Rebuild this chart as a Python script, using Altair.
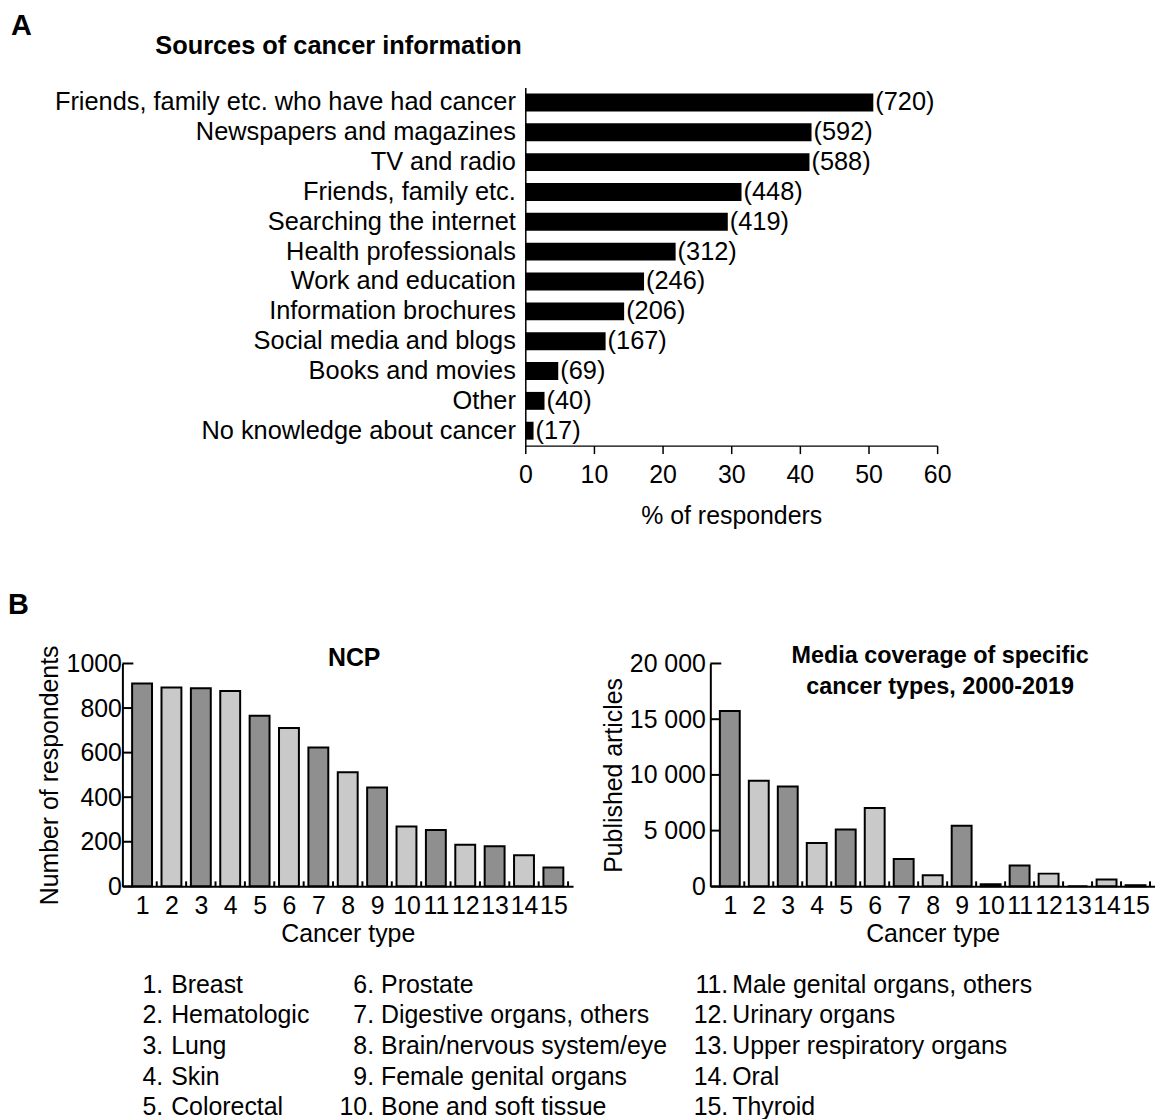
import altair as alt
import pandas as pd

FONT = "Liberation Sans, Arial, Helvetica, sans-serif"
FS = 25
FSA = 25.5
DARK = "#8f8f8f"
LIGHT = "#c9c9c9"

# ---------------- data ----------------
sources = [
    "Friends, family etc. who have had cancer",
    "Newspapers and magazines",
    "TV and radio",
    "Friends, family etc.",
    "Searching the internet",
    "Health professionals",
    "Work and education",
    "Information brochures",
    "Social media and blogs",
    "Books and movies",
    "Other",
    "No knowledge about cancer",
]
source_counts = [720, 592, 588, 448, 419, 312, 246, 206, 167, 69, 40, 17]
source_pct = [50.7, 41.7, 41.4, 31.5, 29.5, 21.9, 17.3, 14.4, 11.7, 4.8, 2.8, 1.2]
pct_ticks = [0, 10, 20, 30, 40, 50, 60]

cancer_types = list(range(1, 16))
cancer_names = [
    "Breast", "Hematologic", "Lung", "Skin", "Colorectal",
    "Prostate", "Digestive organs, others", "Brain/nervous system/eye",
    "Female genital organs", "Bone and soft tissue",
    "Male genital organs, others", "Urinary organs",
    "Upper respiratory organs", "Oral", "Thyroid",
]
ncp_respondents = [910, 892, 889, 877, 766, 711, 623, 512, 443, 268, 253, 187, 180, 139, 84]
media_articles = [15740, 9470, 8950, 3880, 5090, 7040, 2460, 1000, 5440, 180, 1860, 1140, 0, 620, 100]
ncp_ticks = [0, 200, 400, 600, 800, 1000]
media_ticks = [0, 5000, 10000, 15000, 20000]


def label_chart(text, x, y, size, bold=True, align="left"):
    return alt.Chart(pd.DataFrame({"t": [text]})).mark_text(
        align=align, baseline="middle", fontSize=size,
        fontWeight="bold" if bold else "normal", font=FONT, color="black",
    ).encode(x=alt.value(x), y=alt.value(y), text="t:N")


# ---------------- panel A ----------------
WA, HA = 414, 360
dfA = pd.DataFrame({
    "source": sources,
    "pct": source_pct,
    "label": [f"({c})" for c in source_counts],
})
yA = alt.Y("source:N", sort=sources,
           scale=alt.Scale(paddingInner=0.4, paddingOuter=0.2),
           axis=alt.Axis(title=None, ticks=False, labelPadding=10, labelLimit=0,
                         domainWidth=1.5, labelFontSize=FSA))
xA = alt.X("pct:Q", scale=alt.Scale(domain=[0, 60], nice=False),
           axis=alt.Axis(values=pct_ticks, title="% of responders", tickSize=8,
                         tickWidth=1.5, domainWidth=1.5, labelPadding=9,
                         titlePadding=16, grid=False, labelFlush=False))
barsA = alt.Chart(dfA).mark_bar(color="black").encode(x=xA, y=yA)
textA = alt.Chart(dfA).mark_text(align="left", baseline="middle", dx=2,
                                 fontSize=FSA, font=FONT, color="black").encode(
    x=xA, y=yA, text="label:N")
panelA = alt.layer(
    barsA, textA,
    label_chart("A", -517, -62, 29),
    label_chart("Sources of cancer information", -372, -42, FSA),
).properties(width=WA, height=HA)

spacer = alt.Chart(pd.DataFrame({"a": [0]})).mark_point(opacity=0).encode(
    x=alt.value(0), y=alt.value(0)).properties(width=1, height=1)
rowA = alt.HConcatChart(hconcat=[spacer, panelA], spacing=404, bounds="flush")


# ---------------- panel B ----------------
def panel_b(values, ticks, W, H, ytitle, lab_pad, title_pad, label_expr=None, fmt="d"):
    df = pd.DataFrame({"type": cancer_types, "v": values})
    xscale = alt.Scale(domain=[0.5, 15.5], nice=False, zero=False)
    xaxis = alt.Axis(values=cancer_types, format="d", title="Cancer type",
                     ticks=False, labelPadding=7, titlePadding=3,
                     labelOverlap=False, labelFlush=False, grid=False,
                     domainWidth=2)
    ykw = dict(values=ticks, ticks=False, title=ytitle, labelPadding=lab_pad,
               titlePadding=title_pad, grid=False, labelOverlap=False,
               domainWidth=2, labelFlush=False, format=fmt)
    if label_expr:
        ykw["labelExpr"] = label_expr
    yscale = alt.Scale(domain=[0, ticks[-1]], nice=False)
    yaxis = alt.Axis(**ykw)

    ytick = alt.Chart(pd.DataFrame({"v": ticks})).mark_rule(
        color="black", strokeWidth=2).encode(
        y=alt.Y("v:Q", scale=yscale, axis=yaxis),
        x=alt.value(0), x2=alt.value(11))
    xtick = alt.Chart(df).transform_calculate(edge="datum.type + 0.5").mark_rule(
        color="black", strokeWidth=2).encode(
        x=alt.X("edge:Q", scale=xscale, axis=xaxis),
        y=alt.value(H), y2=alt.value(H - 5))
    bars = alt.Chart(df).mark_bar(size=20, stroke="black", strokeWidth=2).encode(
        x=alt.X("type:Q", scale=xscale, axis=xaxis),
        y=alt.Y("v:Q", scale=yscale, axis=yaxis),
        fill=alt.condition("datum.type % 2 == 1", alt.value(DARK), alt.value(LIGHT)),
    )
    return [ytick, xtick, bars]


WL, WR, HB = 453, 447, 224
left_layers = panel_b(ncp_respondents, ncp_ticks, WL, HB,
                      "Number of respondents", 1, 4)
panelBL = alt.layer(
    *left_layers,
    label_chart("NCP", 233, -5, FS, align="center"),
    label_chart("B", -115, -59, 29),
).properties(width=WL, height=HB)

right_layers = panel_b(media_articles, media_ticks, WR, HB,
                       "Published articles", 5, 3,
                       label_expr="replace(format(datum.value, ','), ',', ' ')",
                       fmt=",")
panelBR = alt.layer(
    *right_layers,
    label_chart("Media coverage of specific", 231, -7, 23.5, align="center"),
    label_chart("cancer types, 2000-2019", 231, 24, 23.5, align="center"),
).properties(width=WR, height=HB)

rowB = alt.HConcatChart(hconcat=[panelBL, panelBR], spacing=138, bounds="flush")

# ---------------- legend ----------------
legend_df = pd.DataFrame({
    "num": [f"{n}." for n in cancer_types],
    "name": cancer_names,
    "col": [(n - 1) // 5 for n in cancer_types],
    "row": [(n - 1) % 5 for n in cancer_types],
})
num_right = [41, 253, 609]
name_left = [49, 260, 613]
yL = alt.Y("row:Q", scale=alt.Scale(domain=[0, 4], nice=False, zero=False, reverse=True),
           axis=None)
leg_layers = []
for c in range(3):
    base = alt.Chart(legend_df).transform_filter(f"datum.col == {c}")
    leg_layers.append(base.mark_text(align="right", baseline="middle", fontSize=FS,
                                     font=FONT, color="black").encode(
        x=alt.value(num_right[c]), y=yL, text="num:N"))
    leg_layers.append(base.mark_text(align="left", baseline="middle", fontSize=FS,
                                     font=FONT, color="black").encode(
        x=alt.value(name_left[c]), y=yL, text="name:N"))
legend = alt.layer(*leg_layers).properties(width=900, height=123)

# nested flush concat groups count as zero-size, so spacing = full offset
lower = alt.VConcatChart(vconcat=[rowB, legend], spacing=HB + 99, bounds="flush")
chart = alt.VConcatChart(vconcat=[rowA, lower], spacing=HA + 219, bounds="flush").properties(
    padding={"left": 0, "top": 1, "right": 0, "bottom": 0}
).configure_view(stroke=None).configure_axis(
    labelFont=FONT, titleFont=FONT, labelFontSize=FS, titleFontSize=FS,
    labelColor="black", titleColor="black", titleFontWeight="normal",
    domainColor="black", tickColor="black",
).configure_text(font=FONT, color="black")

chart.save("out.html", embed_options={"renderer": "svg", "actions": False})
